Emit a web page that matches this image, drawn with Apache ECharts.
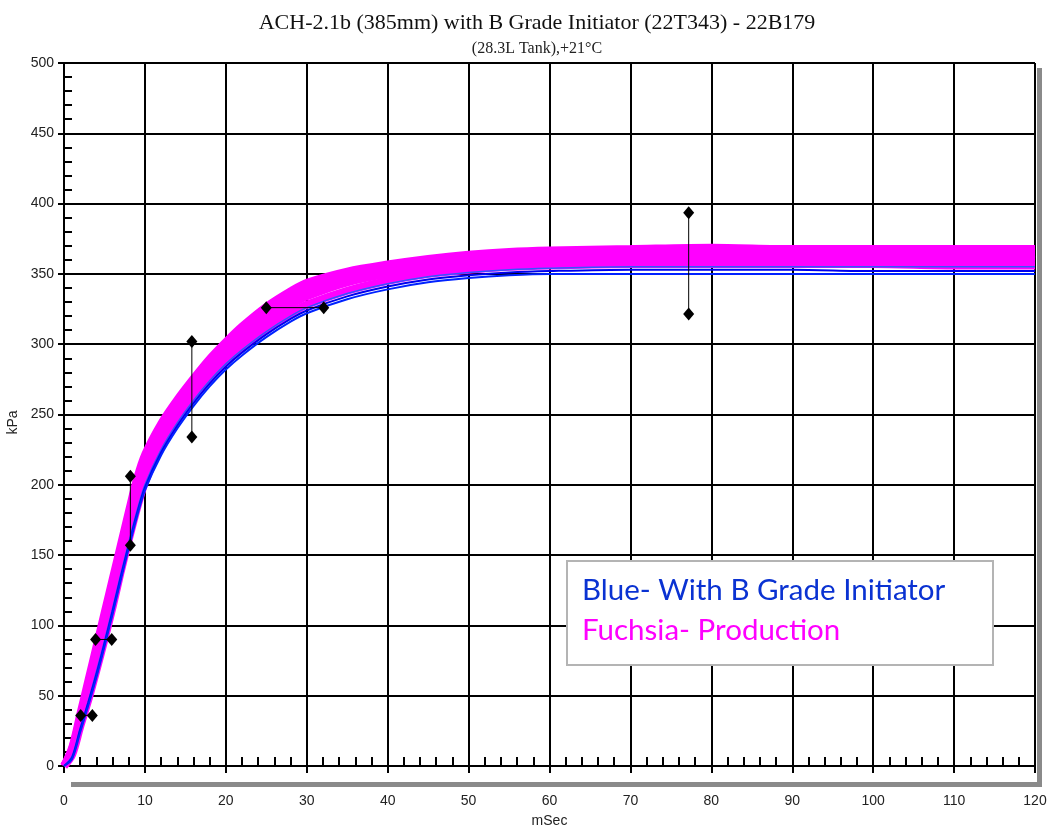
<!DOCTYPE html>
<html><head><meta charset="utf-8">
<script src="https://cdn.jsdelivr.net/npm/echarts@6/dist/echarts.min.js"></script>
<style>html,body{margin:0;padding:0;background:#fff}#c{width:1050px;height:829px}</style>
</head><body><div id="c"></div>
<script>
const titleText = 'ACH-2.1b (385mm) with B Grade Initiator (22T343) - 22B179';
const subtitleText = '(28.3L Tank),+21°C';
const xName = 'mSec';
const yName = 'kPa';
const xRange = [0, 120, 10];
const yRange = [0, 500, 50];
const legendLines = ['Blue- With B Grade Initiator', 'Fuchsia- Production'];

const timeMs = [0,1,2,3,4,5,6,7,8,9,10,12,14,16,18,20,22,25,28,30,35,40,45,50,55,60,70,80,90,100,110,120];

const fuchsia4 = [0,14,38,62,86,110,134,158,182,205,222,244,261,276,290,302,313,327,338,344,352,357,361,364,366,367,368,369,368,368,368,368];
const fuchsia3 = [0,12,34,57,80,104,128,152,176,199,217,240,257,272,286,298,309,322,333,339,348,354,358,361,363,364,365,366,365,365,365,365];
const fuchsia2 = [0,10,31,52,74,97,121,146,170,192,210,234,252,267,281,293,304,317,328,334,344,350,354,357,359,360,361,361,361,361,361,360];
const fuchsia1 = [0,8,28,47,68,90,113,138,161,183,202,227,246,262,276,288,298,311,322,328,338,345,350,353,355,356,357,357,357,357,356,356];

const blue3 = [0,7,27,46,67,89,112,136,159,181,200,225,244,260,274,286,296,309,320,326,336,343,348,351,353,354,355,355,355,355,355,355];
const blue2 = [0,6,26,45,65,87,110,134,157,179,198,223,242,258,272,284,294,307,318,324,334,341,346,349,351,352,353,353,353,352,352,352];
const blue1 = [0,5,24,43,63,85,108,132,155,177,196,221,240,256,270,282,292,305,316,322,332,339,344,347,349,350,350,350,350,350,350,350];

const markerPairs = [
  [[2.06, 36], [3.5, 36]],
  [[3.9, 90], [5.9, 90]],
  [[8.2, 206], [8.2, 157]],
  [[15.8, 302], [15.8, 234]],
  [[25, 326], [32.1, 326]],
  [[77.2, 393.5], [77.2, 321.5]]
];

const pair = arr => timeMs.map((t, i) => [t, arr[i]]);
const curve = (arr, color, width) => ({
  type: 'line', data: pair(arr), showSymbol: false, smooth: 0.3,
  lineStyle: { color: color, width: width }, z: 2, silent: true
});

const series = [
  curve(fuchsia1, '#ff00ff', 8),
  curve(fuchsia2, '#ff00ff', 8),
  curve(fuchsia3, '#ff00ff', 8),
  curve(fuchsia4, '#ff00ff', 7),
  curve(blue3, '#3355ff', 1.5),
  curve(blue2, '#0000ee', 2),
  curve(blue1, '#0022ff', 2)
];
markerPairs.forEach(p => series.push({
  type: 'line', data: p, symbol: 'diamond', symbolSize: [11, 13], showSymbol: true,
  itemStyle: { color: '#000' }, lineStyle: { color: '#000', width: 1 }, z: 5, silent: true
}));

const lab = { color: '#222', fontSize: 14, fontFamily: 'Liberation Sans, Arial, sans-serif' };

const chart = echarts.init(document.getElementById('c'));
chart.setOption({
  animation: false,
  backgroundColor: '#fff',
  title: [
    { text: titleText, left: 532, top: 7, textAlign: 'center',
      textStyle: { fontFamily: 'Liberation Serif, Times New Roman, serif', fontSize: 22, fontWeight: 'normal', color: '#111' } },
    { text: subtitleText, left: 532, top: 36, textAlign: 'center',
      textStyle: { fontFamily: 'Liberation Serif, Times New Roman, serif', fontSize: 16, fontWeight: 'normal', color: '#222' } }
  ],
  grid: { left: 64, right: 15, top: 63, bottom: 63, containLabel: false, outerBoundsMode: 'none' },
  xAxis: [
    { type: 'value', min: xRange[0], max: xRange[1], interval: xRange[2], position: 'bottom', offset: 15,
      name: xName, nameLocation: 'middle', nameGap: 33, nameTextStyle: lab,
      axisLine: { show: true, lineStyle: { color: '#000', width: 2 } },
      axisTick: { show: true, inside: true, length: 15, lineStyle: { color: '#000', width: 2 } },
      minorTick: { show: true, splitNumber: 5, length: 9, lineStyle: { color: '#000', width: 2 } },
      axisLabel: Object.assign({ margin: 13 }, lab),
      splitLine: { show: true, lineStyle: { color: '#000', width: 2 } } },
    { type: 'value', min: xRange[0], max: xRange[1], interval: xRange[2], position: 'bottom', offset: 15,
      axisLine: { show: false }, axisLabel: { show: false }, splitLine: { show: false },
      axisTick: { show: true, inside: false, length: 7, lineStyle: { color: '#000', width: 2 } } }
  ],
  yAxis: [
    { type: 'value', min: yRange[0], max: yRange[1], interval: yRange[2], position: 'left',
      name: yName, nameLocation: 'middle', nameGap: 30, nameRotate: 90,
      nameTextStyle: Object.assign({ padding: [0, 16, 0, 0] }, lab),
      axisLine: { show: true, lineStyle: { color: '#000', width: 2 } },
      axisTick: { show: true, inside: true, length: 8, lineStyle: { color: '#000', width: 2 } },
      minorTick: { show: true, splitNumber: 5, length: 8, lineStyle: { color: '#000', width: 2 } },
      axisLabel: Object.assign({ margin: 10 }, lab),
      splitLine: { show: true, lineStyle: { color: '#000', width: 2 } } },
    { type: 'value', min: yRange[0], max: yRange[1], interval: yRange[2], position: 'left', offset: 0,
      axisLine: { show: false }, axisLabel: { show: false }, splitLine: { show: false },
      axisTick: { show: true, inside: false, length: 6, lineStyle: { color: '#000', width: 2 } } }
  ],
  graphic: { elements: [
    { type: 'rect', z: -10, shape: { x: 71, y: 782, width: 971, height: 5 }, style: { fill: '#8a8a8a' } },
    { type: 'rect', z: -10, shape: { x: 1037, y: 68, width: 5, height: 719 }, style: { fill: '#8a8a8a' } },
    { type: 'rect', z: 50, shape: { x: 567, y: 561, width: 426, height: 104 }, style: { fill: '#fff', stroke: '#b4b4b4', lineWidth: 2 } },
    { type: 'text', z: 51, x: 582, y: 590, style: { text: legendLines[0], fill: '#0a32d2', font: '29.5px Lato, sans-serif', textVerticalAlign: 'middle' } },
    { type: 'text', z: 51, x: 582, y: 630, style: { text: legendLines[1], fill: '#ff00ff', font: '29.5px Lato, sans-serif', textVerticalAlign: 'middle' } }
  ] },
  series: series
});
</script>
</body></html>
